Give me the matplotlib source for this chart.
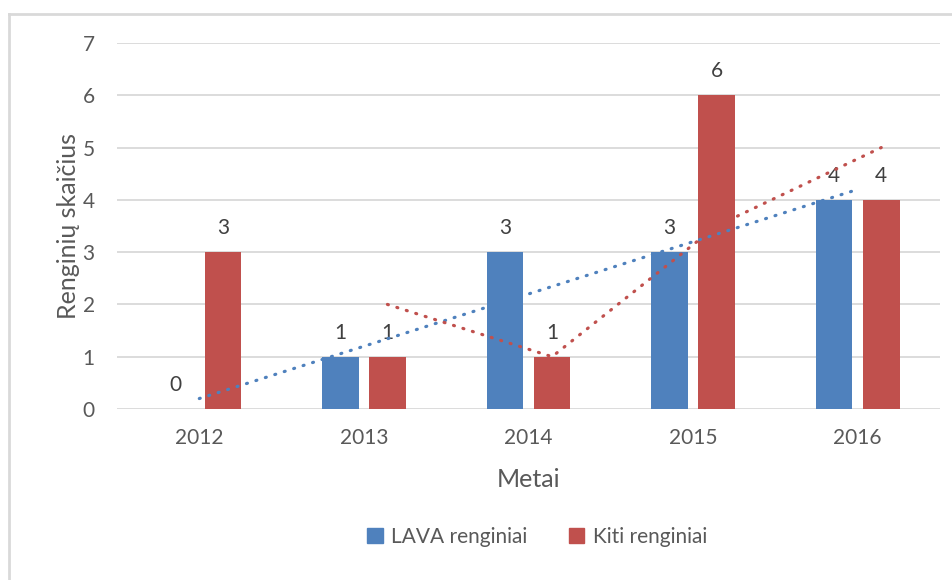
import numpy as np
import matplotlib
matplotlib.use("Agg")
import matplotlib.pyplot as plt
from matplotlib.patches import Patch
from matplotlib.lines import Line2D

# duomenys
metai = ["2012", "2013", "2014", "2015", "2016"]
lava = [0, 1, 3, 3, 4]
kiti = [3, 1, 1, 6, 4]
y_ticks = [0, 1, 2, 3, 4, 5, 6, 7]

MELYNA = "#4F81BD"
RAUDONA = "#C0504D"
PILKA = "#595959"

plt.rcParams["font.family"] = ["Lato", "DejaVu Sans"]

fig = plt.figure(figsize=(9.53, 5.80), dpi=100)
ax = fig.add_axes([117 / 953, 1 - 409 / 580, 823 / 953, 366 / 580])

x = np.arange(len(metai))
plotis = 0.222
poslinkis = 0.143

b1 = ax.bar(x - poslinkis, lava, plotis, color=MELYNA, zorder=2)
b2 = ax.bar(x + poslinkis, kiti, plotis, color=RAUDONA, zorder=2)
ax.bar_label(b1, padding=10, fontsize=15, color="#404040")
ax.bar_label(b2, padding=10, fontsize=15, color="#404040")

# tiesinis trendas (LAVA)
k, b = np.polyfit(x, lava, 1)
ax.plot(x, k * x + b, color=MELYNA, lw=2.3, linestyle=(0, (0.3, 2.8)),
        dash_capstyle="round", zorder=3)

# slenkamasis vidurkis (Kiti), periodas 2
vidurkis = np.convolve(kiti, [0.5, 0.5], mode="valid")
ax.plot(x[1:] + poslinkis, vidurkis, color=RAUDONA, lw=2.3,
        linestyle=(0, (0.3, 2.8)), dash_capstyle="round", zorder=3)

ax.set_xlim(-0.5, 4.5)
ax.set_ylim(0, 7)
ax.set_yticks(y_ticks)
ax.set_xticks(x)
ax.set_xticklabels(metai)
ax.grid(axis="y", color="#D9D9D9", lw=1.3, zorder=0)
for s in ax.spines.values():
    s.set_visible(False)
ax.tick_params(length=0, labelsize=15, colors=PILKA)
ax.tick_params(axis="x", pad=14)
ax.tick_params(axis="y", pad=16)

ax.set_xlabel("Metai", fontsize=18, color=PILKA, labelpad=14)
ax.set_ylabel("Renginių skaičius", fontsize=18, color=PILKA, labelpad=2)

rankenos = [Patch(color=MELYNA, label="LAVA renginiai"),
            Patch(color=RAUDONA, label="Kiti renginiai")]
fig.legend(handles=rankenos, loc="center", bbox_to_anchor=(0.5635, 0.074),
           ncol=2, frameon=False, fontsize=15, labelcolor=PILKA,
           handlelength=0.75, handleheight=0.75, handletextpad=0.4,
           columnspacing=2.0)

# rėmelis
fig.add_artist(Line2D([9 / 953, 9 / 953], [0, 1 - 14 / 580],
                      color="#D9D9D9", lw=2, transform=fig.transFigure))
fig.add_artist(Line2D([9 / 953, 1], [1 - 14 / 580, 1 - 14 / 580],
                      color="#D9D9D9", lw=2, transform=fig.transFigure))

fig.savefig("out.png", dpi=100)
